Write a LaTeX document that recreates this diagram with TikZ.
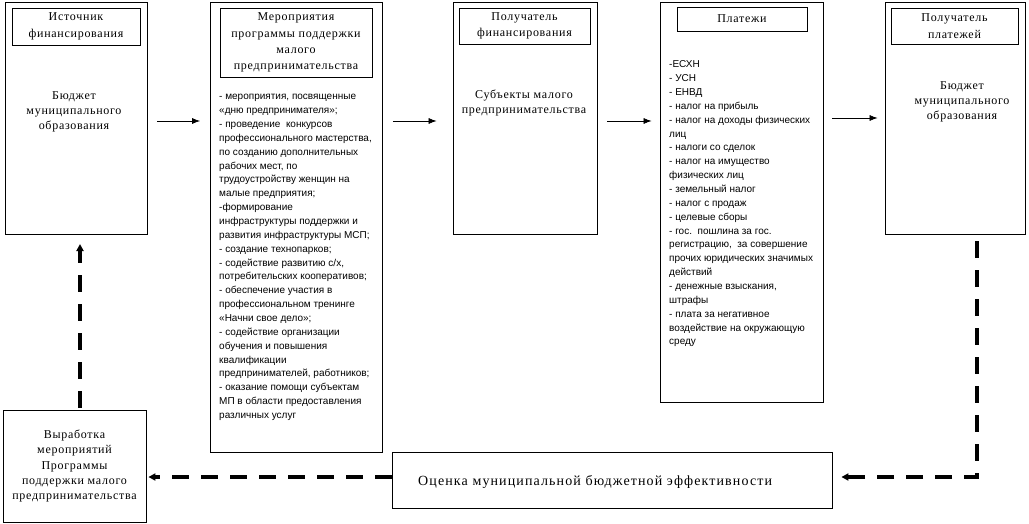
\documentclass[tikz,border=0pt]{standalone}
\usepackage{fontspec}
\setmainfont{Liberation Serif}
\newfontfamily\serf[LetterSpace=6]{Liberation Serif}
\newfontfamily\serfw[LetterSpace=8]{Liberation Serif}
\newfontfamily\lstf{Liberation Sans}
\usetikzlibrary{arrows.meta,calc}
\begin{document}
\begin{tikzpicture}[x=1pt,y=-1pt,
  box/.style={draw, line width=0.8pt, inner sep=0pt},
  ttl/.style={box, font=\serf\fontsize{12}{16.3}\selectfont, align=center},
  body/.style={inner sep=0pt, font=\serf\fontsize{12}{15.2}\selectfont, align=center},
  lst/.style={inner sep=0pt, anchor=north west, align=left, font=\lstf\fontsize{10}{13.85}\selectfont},
  arr/.style={line width=0.7pt, -{Latex[length=8pt,width=6pt]}},
  darr/.style={line width=3.2pt, dash pattern=on 17pt off 12pt, -{Triangle[length=7pt,width=7pt]}}
]
\useasboundingbox (0,0) rectangle (1029,524);
% outer boxes
\node[box, minimum width=142pt, minimum height=232pt] (b1) at (76,118) {};
\node[box, minimum width=172pt, minimum height=450pt] (b2) at (296.5,227) {};
\node[box, minimum width=144pt, minimum height=232pt] (b3) at (525,118) {};
\node[box, minimum width=163pt, minimum height=400pt] (b4) at (741.5,202) {};
\node[box, minimum width=140pt, minimum height=232pt] (b5) at (955,118) {};
\node[box, body, minimum width=143pt, minimum height=112pt] (b6) at (74.5,466)
  {Выработка\\мероприятий\\Программы\\поддержки малого\\предпринимательства};
\node[box, minimum width=440pt, minimum height=56pt] (b7) at (612,480) {};
% title boxes
\node[ttl, minimum width=128pt, minimum height=37pt] (t1) at (76,26.5) {Источник\\финансирования};
\node[ttl, minimum width=152pt, minimum height=69pt] (t2) at (296,42.5) {Мероприятия\\программы поддержки\\малого\\предпринимательства};
\node[ttl, minimum width=131pt, minimum height=36pt] (t3) at (524.5,26) {Получатель\\финансирования};
\node[ttl, minimum width=130pt, minimum height=24pt] (t4) at (742,19) {Платежи};
\node[ttl, minimum width=127pt, minimum height=36pt] (t5) at (954.5,26) {Получатель\\платежей};
% body texts
\node[body] (x1) at (74,112) {Бюджет\\муниципального\\образования};
\node[body] (x3) at (524,103) {Субъекты малого\\предпринимательства};
\node[body] (x5) at (962,102) {Бюджет\\муниципального\\образования};
\node[inner sep=0pt, anchor=west, font=\serfw\fontsize{14}{16}\selectfont] (x7) at (418,482) {Оценка муниципальной бюджетной эффективности};
\node[lst] (x2) at (219,90) {\strut- мероприятия, посвященные\\
«дню предпринимателя»;\\
- проведение\ \ конкурсов\\
профессионального мастерства,\\
по созданию дополнительных\\
рабочих мест, по\\
трудоустройству женщин на\\
малые предприятия;\\
-формирование\\
инфраструктуры поддержки и\\
развития инфраструктуры МСП;\\
- создание технопарков;\\
- содействие развитию с/х,\\
потребительских кооперативов;\\
- обеспечение участия в\\
профессиональном тренинге\\
«Начни свое дело»;\\
- содействие организации\\
обучения и повышения\\
квалификации\\
предпринимателей, работников;\\
- оказание помощи субъектам\\
МП в области предоставления\\
различных услуг};
\node[lst] (x4) at (669,58) {\strut-ЕСХН\\
- УСН\\
- ЕНВД\\
- налог на прибыль\\
- налог на доходы физических\\
лиц\\
- налоги со сделок\\
- налог на имущество\\
физических лиц\\
- земельный налог\\
- налог с продаж\\
- целевые сборы\\
- гос.\ \ пошлина за гос.\\
регистрацию,\ \ за совершение\\
прочих юридических значимых\\
действий\\
- денежные взыскания,\\
штрафы\\
- плата за негативное\\
воздействие на окружающую\\
среду};
% solid arrows
\draw[arr] ([xshift=10pt,yshift=-3pt]b1.east) -- ([xshift=-10pt,yshift=-3pt]b2.west |- b1.east);
\draw[arr] ([xshift=10pt,yshift=-3pt]b2.east |- b3.east) -- ([xshift=-16pt,yshift=-3pt]b3.west);
\draw[arr] ([xshift=10pt,yshift=-3pt]b3.east) -- ([xshift=-8pt,yshift=-3pt]b4.west |- b3.east);
\draw[arr] ([xshift=9pt]b4.east |- b5.east) -- ([xshift=-7pt]b5.west);
% dashed feedback arrows
\coordinate (c0) at (977,241);
\coordinate (c1) at (977,477);
\coordinate (c3) at (80,244);
\draw[darr] (c0) -- (c1) -- ([xshift=9pt]b7.east |- c1);
\draw[darr] (b7.west |- c1) -- ([xshift=2pt]b6.east |- c1);
\draw[darr] ([yshift=2pt]b6.north -| c3) -- (c3);
\end{tikzpicture}
\end{document}
